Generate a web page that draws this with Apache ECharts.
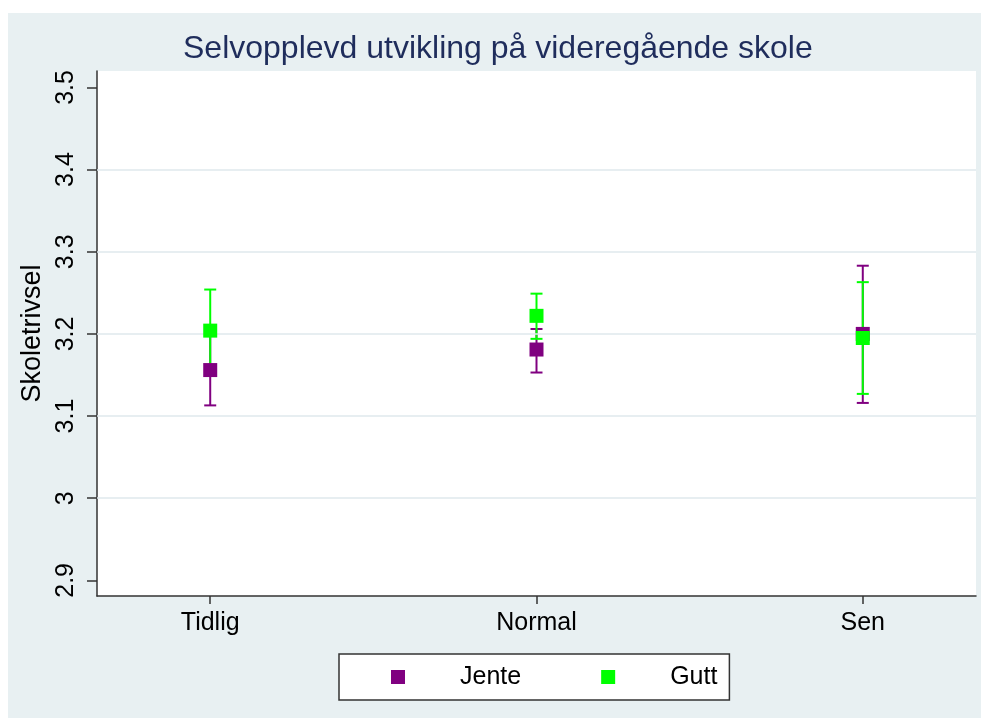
<!DOCTYPE html>
<html>
<head>
<meta charset="utf-8">
<script src="https://cdn.jsdelivr.net/npm/echarts@6/dist/echarts.min.js"></script>
<style>
  html, body { margin: 0; padding: 0; background: #fff; }
  #main { width: 981px; height: 718px; }
</style>
</head>
<body>
<div id="main"></div>
<script>
const categories = ["Tidlig", "Normal", "Sen"];
const janteMean = [3.156, 3.181, 3.200];
const janteLow = [3.113, 3.153, 3.116];
const janteHigh = [3.199, 3.206, 3.283];
const guttMean = [3.204, 3.222, 3.195];
const guttLow = [3.154, 3.194, 3.127];
const guttHigh = [3.254, 3.249, 3.263];
const yTicks = [2.9, 3.0, 3.1, 3.2, 3.3, 3.4, 3.5];
const gridTicks = [3.0, 3.1, 3.2, 3.3, 3.4];

const purple = "#800080";
const green = "#00ff00";
const font = "Liberation Sans, Arial, Helvetica, sans-serif";

const xPos = categories.map((c, i) => i + 1);

const ciData = (low, high) => xPos.map((x, i) => [x, low[i], high[i]]);
const meanData = (mean) => xPos.map((x, i) => [x, mean[i]]);

// error bar with caps
const renderCap = (color) => (params, api) => {
  const x = api.value(0);
  const lo = api.coord([x, api.value(1)]);
  const hi = api.coord([x, api.value(2)]);
  const w = 6;
  const style = { stroke: color, lineWidth: 2 };
  return {
    type: "group",
    children: [
      { type: "line", shape: { x1: lo[0], y1: lo[1], x2: hi[0], y2: hi[1] }, style: style },
      { type: "line", shape: { x1: lo[0] - w, y1: lo[1], x2: lo[0] + w, y2: lo[1] }, style: style },
      { type: "line", shape: { x1: hi[0] - w, y1: hi[1], x2: hi[0] + w, y2: hi[1] }, style: style },
    ],
  };
};

const myChart = echarts.init(document.getElementById("main"));
let option = {
  animation: false,
  backgroundColor: "#fff",
  textStyle: { fontFamily: font },
  graphic: [
    {
      type: "rect",
      z: -1,
      shape: { x: 8, y: 13, width: 973, height: 705 },
      style: { fill: "#e8f0f2" },
      silent: true,
    },
  ],
  title: {
    text: "Selvopplevd utvikling på videregående skole",
    left: 183,
    top: 33,
    padding: 0,
    textStyle: {
      fontFamily: font,
      fontSize: 32,
      fontWeight: "normal",
      color: "#1f2d5c",
    },
  },
  legend: {
    data: ["Jente", "Gutt"],
    left: 339,
    top: 654,
    orient: "horizontal",
    icon: "rect",
    itemWidth: 14,
    itemHeight: 14,
    itemGap: 80,
    padding: [10, 12, 10, 52],
    backgroundColor: "#fff",
    borderColor: "#333",
    borderWidth: 1.5,
    borderRadius: 0,
    selectedMode: false,
    textStyle: {
      fontFamily: font,
      fontSize: 25,
      lineHeight: 26,
      color: "#000",
      padding: [0, 0, 0, 50],
    },
  },
  grid: {
    left: 97,
    right: 5,
    top: 71,
    bottom: 122,
    show: true,
    backgroundColor: "#fff",
    borderWidth: 0,
  },
  xAxis: {
    type: "value",
    min: 0.653,
    max: 3.347,
    splitLine: { show: false },
    axisLine: { show: true, onZero: false, lineStyle: { color: "#333", width: 1.5 } },
    axisTick: {
      show: true,
      length: 8,
      customValues: xPos,
      lineStyle: { color: "#333", width: 1.5 },
    },
    axisLabel: {
      show: true,
      customValues: xPos,
      margin: 15,
      fontSize: 25,
      fontFamily: font,
      color: "#000",
      formatter: (v) => categories[Math.round(v) - 1] || "",
    },
  },
  yAxis: {
    type: "value",
    min: 2.881,
    max: 3.52,
    name: "Skoletrivsel",
    nameLocation: "middle",
    nameRotate: 90,
    nameGap: 48,
    nameTextStyle: { fontFamily: font, fontSize: 27, color: "#000" },
    splitLine: { show: false },
    axisLine: { show: true, onZero: false, lineStyle: { color: "#333", width: 1.5 } },
    axisTick: {
      show: true,
      length: 10,
      customValues: yTicks,
      lineStyle: { color: "#333", width: 1.5 },
    },
    axisLabel: {
      show: true,
      customValues: yTicks,
      rotate: 90,
      margin: 18,
      fontSize: 25,
      fontFamily: font,
      color: "#000",
      formatter: (v) => String(Math.round(v * 10) / 10),
    },
  },
  series: [
    {
      name: "grid",
      type: "line",
      data: [],
      silent: true,
      markLine: {
        silent: true,
        symbol: "none",
        label: { show: false },
        lineStyle: { color: "#dfe9ec", width: 1.5, type: "solid" },
        data: gridTicks.map((v) => ({ yAxis: v })),
      },
    },
    {
      name: "Jente CI",
      type: "custom",
      renderItem: renderCap(purple),
      encode: { x: 0, y: [1, 2] },
      data: ciData(janteLow, janteHigh),
      z: 3,
    },
    {
      name: "Gutt CI",
      type: "custom",
      renderItem: renderCap(green),
      encode: { x: 0, y: [1, 2] },
      data: ciData(guttLow, guttHigh),
      z: 4,
    },
    {
      name: "Jente",
      type: "scatter",
      symbol: "rect",
      symbolSize: 14,
      itemStyle: { color: purple, opacity: 1 },
      data: meanData(janteMean),
      z: 5,
    },
    {
      name: "Gutt",
      type: "scatter",
      symbol: "rect",
      symbolSize: 14,
      itemStyle: { color: green, opacity: 1 },
      data: meanData(guttMean),
      z: 6,
    },
  ],
};
myChart.setOption(option);
</script>
</body>
</html>
